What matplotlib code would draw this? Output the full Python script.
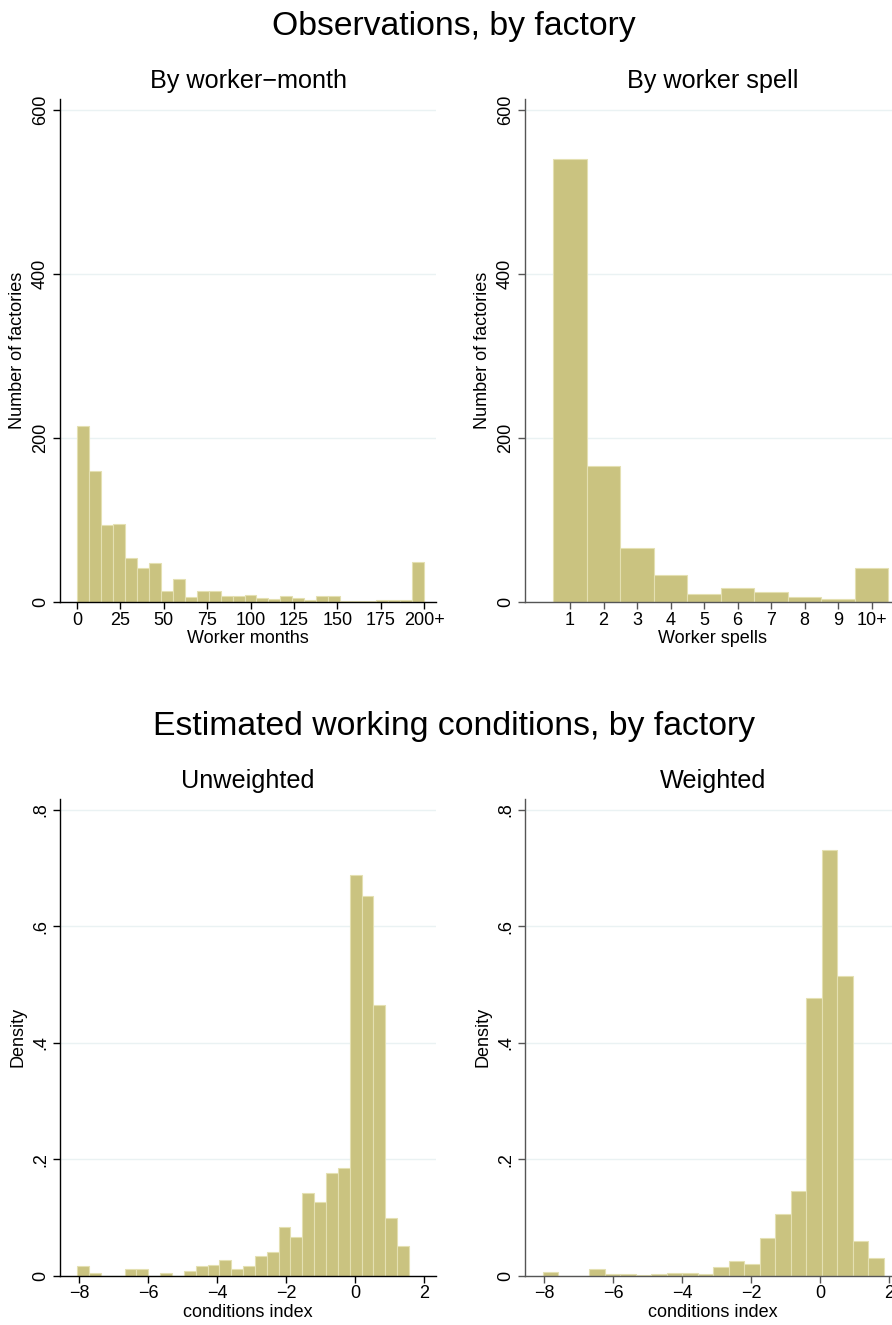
import numpy as np
import matplotlib
matplotlib.use('Agg')
import matplotlib.pyplot as plt

plt.rcParams['font.family'] = ['Liberation Sans', 'DejaVu Sans']

# ---------------- data ----------------
months_counts = [215, 160, 94, 95, 54, 42, 47, 14, 28, 6, 14, 14, 7, 7, 8,
                 5, 4, 7, 5, 2, 7, 7, 1, 1, 1, 2, 2, 2, 49]
months_range = (0, 200)
months_ticks = [0, 25, 50, 75, 100, 125, 150, 175, 200]
months_ticklabels = ['0', '25', '50', '75', '100', '125', '150', '175', '200+']

spells = [1, 2, 3, 4, 5, 6, 7, 8, 9, 10]
spells_counts = [540, 166, 66, 33, 10, 17, 12, 6, 4, 41]
spells_ticklabels = ['1', '2', '3', '4', '5', '6', '7', '8', '9', '10+']

count_ticks = [0, 200, 400, 600]

unw_density = [0.0155, 0.004, 0, 0, 0.0115, 0.0115, 0, 0.004, 0, 0.008,
               0.0155, 0.018, 0.026, 0.011, 0.0155, 0.033, 0.041, 0.084,
               0.066, 0.141, 0.127, 0.177, 0.185, 0.688, 0.652, 0.465,
               0.098, 0.051]
unw_range = (-8.05, 1.565)

w_density = [0.0063, 0, 0, 0.012, 0.0034, 0.003, 0.001, 0.002, 0.004,
             0.004, 0.003, 0.015, 0.025, 0.019, 0.065, 0.106, 0.146, 0.477,
             0.732, 0.515, 0.059, 0.030]
w_range = (-8.03, 1.855)

cond_ticks = [-8, -6, -4, -2, 0, 2]
cond_ticklabels = ['\u22128', '\u22126', '\u22124', '\u22122', '0', '2']
dens_ticks = [0, 0.2, 0.4, 0.6, 0.8]
dens_ticklabels = ['0', '.2', '.4', '.6', '.8']

# ---------------- style ----------------
W, H = 892, 1325
BAR = '#CAC380'
EDGE = '#E4E0B2'
GRID = '#EAF2F3'
FS = 13

fig = plt.figure(figsize=(W / 100, H / 100), dpi=100)


def ax_at(l, t, r, b):
    return fig.add_axes([l / W, 1 - b / H, (r - l) / W, (b - t) / H])


def style(ax, spine_color):
    for s in ['top', 'right']:
        ax.spines[s].set_visible(False)
    for s in ['left', 'bottom']:
        ax.spines[s].set_color(spine_color)
        ax.spines[s].set_linewidth(1.0)
    ax.tick_params(axis='both', direction='out', length=5, width=1.0,
                   color=spine_color, labelsize=FS, labelcolor='black')
    ax.tick_params(axis='x', pad=2)
    ax.tick_params(axis='y', labelrotation=90, pad=3)
    for lab in ax.get_yticklabels():
        lab.set_va('center')
    ax.yaxis.grid(True, color=GRID, linewidth=1.0)
    ax.set_axisbelow(True)


def hist(ax, values, rng):
    n = len(values)
    edges = np.linspace(rng[0], rng[1], n + 1)
    ax.bar(edges[:-1], values, width=np.diff(edges), align='edge',
           color=BAR, edgecolor=EDGE, linewidth=0.8, zorder=2)


# top-left
ax1 = ax_at(60, 99, 436, 602)
hist(ax1, months_counts, months_range)
ax1.set_xlim(-9.8, 206.9)
ax1.set_ylim(0, 613.4)
ax1.set_xticks(months_ticks)
ax1.set_xticklabels(months_ticklabels)
ax1.set_yticks(count_ticks)
ax1.set_yticklabels([str(v) for v in count_ticks])
style(ax1, 'black')
ax1.set_xlabel('Worker months', fontsize=FS, labelpad=1)
ax1.set_ylabel('Number of factories', fontsize=FS, labelpad=4)

# top-right
ax2 = ax_at(525, 99, 901, 602)
ax2.bar(spells, spells_counts, width=1.0, color=BAR, edgecolor=EDGE,
        linewidth=0.8, zorder=2)
ax2.set_xlim(-0.342, 10.875)
ax2.set_ylim(0, 613.4)
ax2.set_xticks(spells)
ax2.set_xticklabels(spells_ticklabels)
ax2.set_yticks(count_ticks)
ax2.set_yticklabels([str(v) for v in count_ticks])
style(ax2, '#555555')
ax2.set_xlabel('Worker spells', fontsize=FS, labelpad=1)
ax2.set_ylabel('Number of factories', fontsize=FS, labelpad=4)

# bottom-left
ax3 = ax_at(60, 799, 436, 1275.5)
hist(ax3, unw_density, unw_range)
ax3.set_xlim(-8.55, 2.35)
ax3.set_ylim(0, 0.819)
ax3.set_xticks(cond_ticks)
ax3.set_xticklabels(cond_ticklabels)
ax3.set_yticks(dens_ticks)
ax3.set_yticklabels(dens_ticklabels)
style(ax3, 'black')
ax3.set_xlabel('conditions index', fontsize=FS, labelpad=1)
ax3.set_ylabel('Density', fontsize=FS, labelpad=4)

# bottom-right
ax4 = ax_at(525, 799, 901, 1275.5)
hist(ax4, w_density, w_range)
ax4.set_xlim(-8.55, 2.35)
ax4.set_ylim(0, 0.819)
ax4.set_xticks(cond_ticks)
ax4.set_xticklabels(cond_ticklabels)
ax4.set_yticks(dens_ticks)
ax4.set_yticklabels(dens_ticklabels)
style(ax4, '#555555')
ax4.set_xlabel('conditions index', fontsize=FS, labelpad=1)
ax4.set_ylabel('Density', fontsize=FS, labelpad=4)

# titles
def ftext(x, y, s, size):
    fig.text(x / W, 1 - y / H, s, fontsize=size, ha='center', va='baseline')

ftext(454, 35.5, 'Observations, by factory', 24.3)
ftext(454, 735.5, 'Estimated working conditions, by factory', 24.3)
ftext(248, 88, 'By worker\u2212month', 18.2)
ftext(713, 88, 'By worker spell', 18.2)
ftext(248, 788, 'Unweighted', 18.2)
ftext(713, 788, 'Weighted', 18.2)

fig.savefig('out.png', dpi=100)
